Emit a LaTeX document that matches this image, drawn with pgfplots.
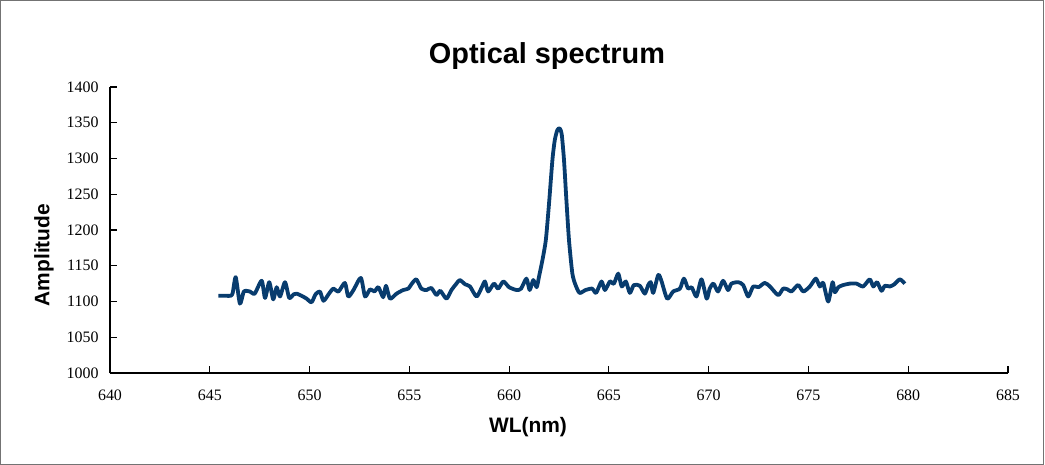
\documentclass[border=0pt]{standalone}
\usepackage{pgfplots}
\pgfplotsset{compat=1.18}
\usepackage{fontspec}
\setmainfont{Liberation Sans}
\newfontfamily\tickfont{Liberation Serif}
\newcommand\tickfs{\tickfont\fontsize{16}{19}\selectfont}
\definecolor{specblue}{RGB}{8,60,110}
\begin{document}
\begin{tikzpicture}
\useasboundingbox (0,0) rectangle (1045bp,465bp);
\draw[black!55, line width=1bp] (0.5bp,0.5bp) rectangle (1043bp,464.5bp);
\begin{axis}[
  at={(110bp,92bp)}, anchor=south west,
  scale only axis, width=898bp, height=286bp,
  xmin=640, xmax=685, ymin=1000, ymax=1400,
  xtick={640,645,...,685}, ytick={1000,1050,...,1400},
  axis x line=bottom, axis y line=left,
  axis line style={-, line width=1.1bp},
  tick align=inside, major tick length=7bp,
  tick style={line width=1.1bp, black},
  /pgf/number format/assume math mode=true,
  /pgf/number format/1000 sep={},
  xticklabel={\tickfs\pgfmathprintnumber{\tick}},
  yticklabel={\tickfs\pgfmathprintnumber{\tick}},
  yticklabel style={xshift=-8bp},
  xticklabel style={yshift=-13bp},
  title={Optical spectrum},
  title style={at={(rel axis cs:0.4866,1)}, anchor=center, yshift=25bp, font=\fontsize{29}{34}\selectfont\bfseries},
  xlabel={WL(nm)},
  xlabel style={at={(rel axis cs:0.4655,0)}, anchor=center, yshift=-54bp, font=\fontsize{21}{25}\selectfont\bfseries},
  ylabel={Amplitude},
  ylabel style={at={(axis description cs:-0.0735,0.4126)}, anchor=center, rotate=0, font=\fontsize{21}{25}\selectfont\bfseries},
  clip=false,
]
\addplot[specblue, line width=3.8bp, smooth, tension=0.4, line join=round] coordinates {
(645.43,1108) (645.80,1108) (646.05,1108) (646.15,1112) (646.30,1134) (646.51,1097)
(646.71,1114) (647.01,1114) (647.25,1111) (647.60,1129) (647.77,1105) (647.98,1127)
(648.18,1103) (648.35,1120) (648.52,1107) (648.77,1127) (648.98,1105) (649.20,1110)
(649.35,1111) (649.60,1108) (649.85,1104) (650.10,1099) (650.30,1110) (650.52,1114)
(650.70,1101) (651.00,1112) (651.19,1118) (651.45,1114) (651.77,1126) (651.94,1107)
(652.20,1116) (652.57,1133) (652.78,1107) (653.03,1117) (653.25,1114) (653.45,1120)
(653.69,1106) (653.83,1122) (654.03,1104) (654.36,1111) (654.69,1116) (654.95,1118)
(655.10,1124) (655.35,1131) (655.60,1118) (655.86,1116) (656.10,1119) (656.36,1109)
(656.55,1115) (656.86,1104) (657.11,1116) (657.36,1125) (657.53,1130) (657.80,1124)
(658.04,1121) (658.37,1107) (658.65,1121) (658.79,1128) (658.95,1114) (659.24,1125)
(659.45,1118) (659.71,1128) (660.00,1120) (660.38,1116) (660.60,1118) (660.87,1132)
(661.03,1116) (661.21,1130) (661.38,1120) (661.50,1135) (661.67,1158) (661.84,1186)
(662.00,1237) (662.17,1298) (662.29,1326) (662.42,1340) (662.54,1342) (662.64,1333)
(662.75,1298) (662.87,1242) (663.00,1186) (663.17,1139) (663.33,1123) (663.53,1112)
(663.83,1116) (664.16,1118) (664.36,1112) (664.63,1128) (664.80,1116) (665.05,1128)
(665.25,1125) (665.47,1139) (665.64,1121) (665.85,1128) (666.05,1112) (666.25,1123)
(666.55,1122) (666.80,1111) (666.97,1123) (667.10,1127) (667.22,1112) (667.47,1137)
(667.62,1130) (667.92,1104) (668.22,1114) (668.56,1118) (668.76,1132) (668.97,1118)
(669.15,1120) (669.39,1107) (669.64,1131) (669.90,1104) (670.05,1118) (670.24,1125)
(670.47,1114) (670.72,1129) (670.97,1116) (671.14,1125) (671.48,1127) (671.73,1123)
(671.98,1107) (672.23,1121) (672.50,1120) (672.81,1126) (673.07,1121) (673.48,1109)
(673.73,1118) (673.95,1117) (674.15,1114) (674.48,1123) (674.74,1114) (675.07,1121)
(675.37,1132) (675.57,1121) (675.74,1126) (675.99,1100) (676.21,1127) (676.32,1113)
(676.50,1120) (676.74,1123) (677.07,1125) (677.41,1125) (677.74,1121) (678.07,1131)
(678.25,1121) (678.44,1127) (678.66,1115) (678.83,1122) (679.08,1121) (679.30,1124)
(679.58,1131) (679.83,1125)
};
\end{axis}
\end{tikzpicture}
\end{document}
